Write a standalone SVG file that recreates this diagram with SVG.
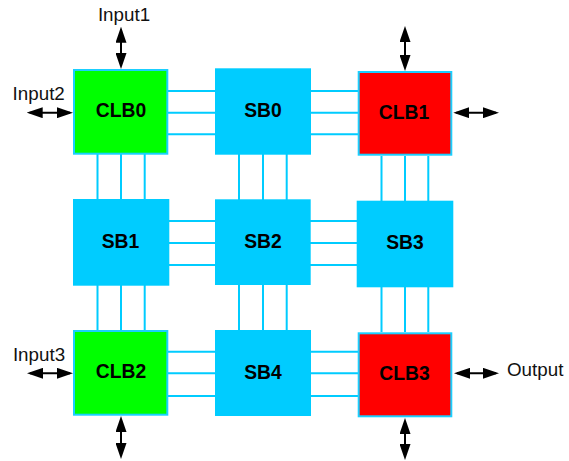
<svg xmlns="http://www.w3.org/2000/svg" width="569" height="461" viewBox="0 0 569 461">
  <style>
    .wire { stroke: #00CCFF; stroke-width: 2; fill: none; }
    .sb { fill: #00CCFF; }
    .clb { stroke: #1ACFFF; stroke-width: 2; }
    .green { fill: #00FF00; }
    .red { fill: #FF0000; }
    .lbl { font-family: "Liberation Sans", Arial, sans-serif; font-size: 19.3px; font-weight: bold; fill: #000; text-anchor: middle; }
    .io { font-family: "Liberation Sans", Arial, sans-serif; font-size: 18.8px; fill: #111; }
    .arrow { stroke: #000; stroke-width: 2; marker-start: url(#head); marker-end: url(#head); }
  </style>
  <defs>
    <marker id="head" markerUnits="userSpaceOnUse" markerWidth="16" markerHeight="11" refX="13" refY="5.5" orient="auto-start-reverse">
      <path d="M0,0 L16,5.5 L0,11 Z" fill="#000"/>
    </marker>
  </defs>
  <rect width="569" height="461" fill="#fff"/>

  <!-- routing wires between blocks -->
  <g id="connectors">
    <!-- row 0 horizontal -->
    <path class="wire" d="M168,91 H358 M168,112.7 H358 M168,134.3 H358"/>
    <!-- row 1 horizontal -->
    <path class="wire" d="M169,221 H357 M169,243 H357 M169,265 H357"/>
    <!-- row 2 horizontal -->
    <path class="wire" d="M168,351.7 H358 M168,373.3 H358 M168,396 H358"/>
    <!-- column 0 vertical -->
    <path class="wire" d="M97.5,154 V330 M121,154 V330 M144.7,154 V330"/>
    <!-- column 1 vertical -->
    <path class="wire" d="M239,154 V330 M263,154 V330 M286.7,154 V330"/>
    <!-- column 2 vertical -->
    <path class="wire" d="M381.5,156 V332 M405,156 V332 M428.3,156 V332"/>
    <!-- I/O arrows -->
    <line class="arrow" x1="121" y1="29.7" x2="121" y2="66"/>
    <line class="arrow" x1="29.7" y1="112.7" x2="70" y2="112.7"/>
    <line class="arrow" x1="405" y1="29" x2="405" y2="68"/>
    <line class="arrow" x1="456.3" y1="112.7" x2="496" y2="112.7"/>
    <line class="arrow" x1="30" y1="373.3" x2="70" y2="373.3"/>
    <line class="arrow" x1="121" y1="419" x2="121" y2="456"/>
    <line class="arrow" x1="457" y1="373.3" x2="496" y2="373.3"/>
    <line class="arrow" x1="405" y1="421" x2="405" y2="457"/>
  </g>

  <g id="CLB0">
    <rect class="clb green" x="74" y="70" width="93.3" height="83.7"/>
    <text class="lbl" x="121" y="117.3">CLB0</text>
  </g>
  <g id="SB0">
    <rect class="sb" x="215" y="68.3" width="96" height="86.4"/>
    <text class="lbl" x="263" y="117.3">SB0</text>
  </g>
  <g id="CLB1">
    <rect class="clb red" x="358.7" y="72" width="92.6" height="82.7"/>
    <text class="lbl" x="404" y="119">CLB1</text>
  </g>
  <g id="SB1">
    <rect class="sb" x="73" y="199" width="96.3" height="86.7"/>
    <text class="lbl" x="120.5" y="248.3">SB1</text>
  </g>
  <g id="SB2">
    <rect class="sb" x="215" y="199.3" width="95.7" height="85.7"/>
    <text class="lbl" x="263" y="247.7">SB2</text>
  </g>
  <g id="SB3">
    <rect class="sb" x="356.7" y="200.7" width="96.6" height="86.6"/>
    <text class="lbl" x="405" y="249.3">SB3</text>
  </g>
  <g id="CLB2">
    <rect class="clb green" x="74" y="331" width="93.3" height="83.7"/>
    <text class="lbl" x="121" y="378.3">CLB2</text>
  </g>
  <g id="SB4">
    <rect class="sb" x="215" y="330" width="96" height="86"/>
    <text class="lbl" x="263" y="379.3">SB4</text>
  </g>
  <g id="CLB3">
    <rect class="clb red" x="358.7" y="333.3" width="92.6" height="83"/>
    <text class="lbl" x="404.5" y="380">CLB3</text>
  </g>

  <g id="labels">
    <text class="io" x="124" y="20.7" text-anchor="middle">Input1</text>
    <text class="io" x="38.7" y="100" text-anchor="middle">Input2</text>
    <text class="io" x="39" y="361" text-anchor="middle">Input3</text>
    <text class="io" x="507" y="376">Output</text>
  </g>
</svg>
